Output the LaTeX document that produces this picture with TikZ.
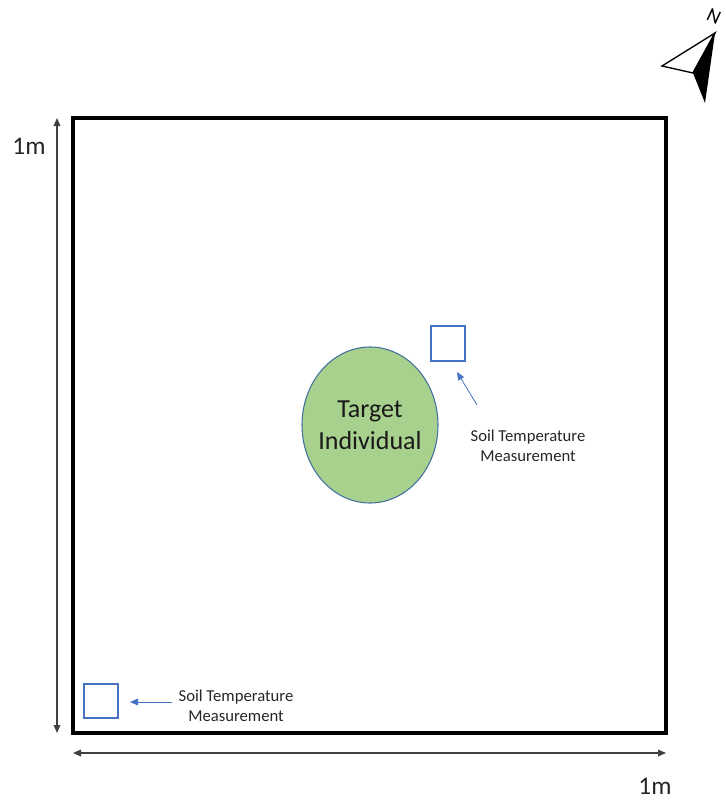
\documentclass[tikz,border=0pt]{standalone}
\usepackage{fontspec}
\setmainfont{Carlito}
\usetikzlibrary{arrows.meta,shapes.geometric}
\definecolor{plotblue}{HTML}{4472C4}
\definecolor{leafgreen}{HTML}{A9D18E}
\definecolor{edgeblue}{HTML}{41719C}
\tikzset{
  dimarrow/.style={draw=black!75, line width=0.9pt, {Triangle[length=6pt,width=5pt]}-{Triangle[length=6pt,width=5pt]}},
  probe/.style={draw=plotblue, line width=1.6pt, minimum size=26pt, inner sep=0pt},
  pointer/.style={draw=plotblue, line width=0.6pt, -{Triangle[length=6pt,width=5pt]}},
  lbl/.style={font=\fontsize{12.5}{15}\selectfont, align=center, text=black!85},
  dimlbl/.style={font=\fontsize{19}{21}\selectfont, text=black!85}
}
\begin{document}
\begin{tikzpicture}[x=0.75pt,y=-0.75pt]
\useasboundingbox (0,0) rectangle (725,803);
% plot boundary
\draw[line width=2.6pt] (73,118) rectangle (666,733);
% dimension arrows
\coordinate (vtop) at (57,118);
\coordinate (vbot) at (57,733);
\draw[dimarrow] (vbot) -- (vtop);
\coordinate (hleft) at (73,753);
\coordinate (hright) at (666,753);
\draw[dimarrow] (hleft) -- (hright);
\node[dimlbl] (lv) at (29,146) {1m};
\node[dimlbl] (lh) at (655,786) {1m};
% target individual
\node[ellipse, draw=edgeblue, fill=leafgreen, line width=0.8pt, minimum width=102pt, minimum height=117pt, inner sep=0pt] (target) at (370,425) {};
\node[font=\fontsize{19.5}{24}\selectfont, align=center, text=black!90] (targettext) at (target.center) {Target\\Individual};
% probes
\node[probe] (p1) at (448,343.5) {};
\node[probe] (p2) at (101,701) {};
\node[lbl] (t1) at (528,446) {Soil Temperature\\Measurement};
\node[lbl] (t2) at (236,706) {Soil Temperature\\Measurement};
\coordinate (a1) at (477,405);
\coordinate (a1e) at (457,372);
\draw[pointer] (a1) -- (a1e);
\coordinate (a2) at (172,702);
\coordinate (a2e) at (130,702);
\draw[pointer] (a2) -- (a2e);
% north arrow
\coordinate (ntip) at (715,33);
\coordinate (nleft) at (662,66);
\coordinate (nin) at (693,73);
\coordinate (nbot) at (705,103);
\draw[line width=1pt, fill=white, line join=miter] (ntip) -- (nleft) -- (nin) -- cycle;
\fill[black] (ntip) -- (nin) -- (nbot) -- cycle;
\draw[line width=1pt] (ntip) -- (nin);
\node[font=\fontsize{15}{18}\selectfont, rotate=-25, inner sep=0pt] (nlab) at (714,16) {N};
\end{tikzpicture}
\end{document}
